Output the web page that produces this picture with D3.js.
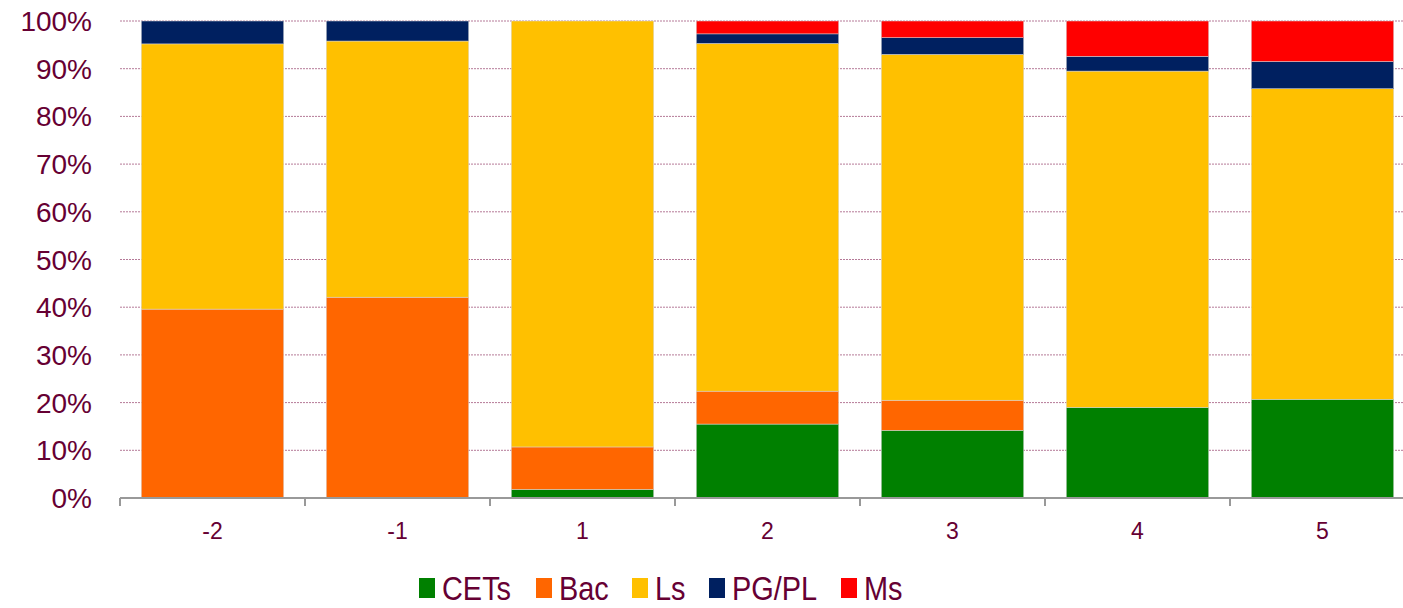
<!DOCTYPE html>
<html lang="en">
<head>
<meta charset="UTF-8" />
<title>Stacked 100% bars</title>
<style>
  body { margin: 0; background: #fff; }
  svg { display: block; font-family: "Liberation Sans", Arial, sans-serif; }
</style>
<script src="https://cdn.jsdelivr.net/npm/d3@7"></script>
</head>
<body>
<svg id="chart" width="1403" height="608"></svg>
<script>
const categories = ["-2", "-1", "1", "2", "3", "4", "5"];
const seriesNames = ["CETs", "Bac", "Ls", "PG/PL", "Ms"];
const cets = [0, 0, 1.8, 15.5, 14.2, 19.0, 20.7];
const bac  = [39.6, 42.1, 8.9, 6.9, 6.3, 0, 0];
const ls   = [55.6, 53.7, 89.3, 72.9, 72.5, 70.5, 65.1];
const pgpl = [4.8, 4.2, 0, 2.0, 3.5, 3.1, 5.7];
const ms   = [0, 0, 0, 2.7, 3.5, 7.4, 8.5];
const yTicks = [0, 10, 20, 30, 40, 50, 60, 70, 80, 90, 100];

const colors = { "CETs": "#008000", "Bac": "#FF6600", "Ls": "#FFC000", "PG/PL": "#002060", "Ms": "#FF0000" };
const textColor = "#660033";

const values = [cets, bac, ls, pgpl, ms];
const rows = categories.map((c, i) => {
  const r = { cat: c };
  seriesNames.forEach((s, j) => r[s] = values[j][i]);
  return r;
});

const svg = d3.select("#chart");
const plotLeft = 120, plotRight = 1415, plotTop = 21, plotBottom = 498;

const x = d3.scaleBand().domain(categories).range([plotLeft, plotRight]).paddingInner(0.23).paddingOuter(0.115);
const y = d3.scaleLinear().domain([0, 100]).range([plotBottom, plotTop]);

// gridlines
svg.append("g").selectAll("line")
  .data(yTicks.filter(t => t > 0))
  .join("line")
  .attr("x1", plotLeft).attr("x2", plotRight)
  .attr("y1", d => y(d)).attr("y2", d => y(d))
  .attr("stroke", "#b57a98").attr("stroke-width", 1)
  .attr("stroke-dasharray", "2,1");

// y labels
svg.append("g").selectAll("text")
  .data(yTicks)
  .join("text")
  .attr("x", 92).attr("y", d => y(d) + 10)
  .attr("text-anchor", "end")
  .attr("font-size", 28)
  .attr("fill", textColor)
  .text(d => d + "%");

// bars
const stack = d3.stack().keys(seriesNames)(rows);
svg.append("g").selectAll("g")
  .data(stack)
  .join("g")
  .attr("fill", d => colors[d.key])
  .selectAll("rect")
  .data(d => d.filter(p => p[1] - p[0] > 0))
  .join("rect")
  .attr("x", d => x(d.data.cat))
  .attr("width", x.bandwidth())
  .attr("y", d => y(d[1]))
  .attr("height", d => y(d[0]) - y(d[1]))
  .attr("stroke", "#d8d8d8").attr("stroke-width", 0.5);

// x axis
const bounds = d3.range(categories.length + 1).map(i => plotLeft + i * x.step());
svg.append("line")
  .attr("x1", plotLeft).attr("x2", plotRight)
  .attr("y1", plotBottom).attr("y2", plotBottom)
  .attr("stroke", "#999").attr("stroke-width", 2);
svg.append("g").selectAll("line")
  .data(bounds)
  .join("line")
  .attr("x1", d => d).attr("x2", d => d)
  .attr("y1", plotBottom).attr("y2", plotBottom + 8)
  .attr("stroke", "#999").attr("stroke-width", 2);
svg.append("g").selectAll("text")
  .data(categories)
  .join("text")
  .attr("x", d => x(d) + x.bandwidth() / 2)
  .attr("y", 539)
  .attr("text-anchor", "middle")
  .attr("font-size", 23)
  .attr("fill", textColor)
  .text(d => d);

// legend
const legendX = [419, 536, 632, 709, 841];
const lg = svg.append("g").selectAll("g")
  .data(seriesNames)
  .join("g")
  .attr("transform", (d, i) => `translate(${legendX[i]},0)`);
lg.append("rect")
  .attr("x", 0).attr("y", 578).attr("width", 16).attr("height", 20)
  .attr("fill", d => colors[d]);
lg.append("text")
  .attr("transform", "translate(23,600) scale(0.85,1)")
  .attr("font-size", 34)
  .attr("fill", textColor)
  .text(d => d);
</script>
</body>
</html>
